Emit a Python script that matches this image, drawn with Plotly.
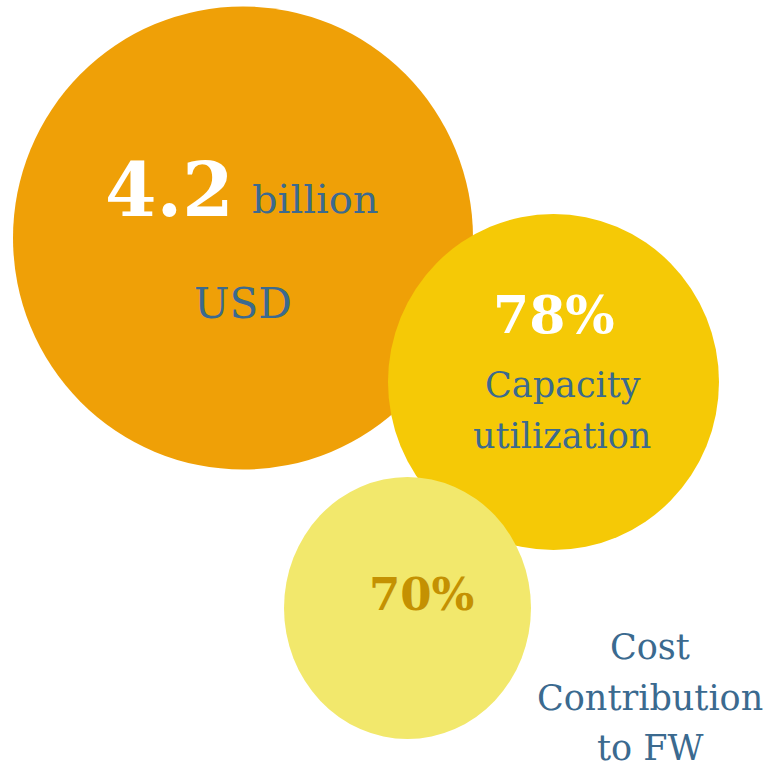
import plotly.graph_objects as go

W, H = 770, 769

# Bubble data (pixel-space coordinates, y measured downward)
bubble_names = ["Spend", "Capacity utilization", "Cost contribution to FW"]
bubble_cx = [243, 553.5, 407.5]
bubble_cy = [238, 382, 608]
bubble_rx = [230, 165.5, 123.5]
bubble_ry = [231.5, 168, 131]
bubble_colors = ["#EFA007", "#F5C906", "#F2E86C"]

# Value labels
value_texts = ["4.2", "78%", "70%"]
value_x = [169, 554, 421]
value_y = [190, 314, 594]
value_sizes = [74, 52, 45]
value_colors = ["#FFFFFF", "#FFFFFF", "#C49102"]

# Descriptive labels (one entry per line)
desc_texts = ["billion", "USD", "Capacity", "utilization", "Cost", "Contribution", "to FW"]
desc_x = [315, 243, 563, 562, 650, 650, 650]
desc_y = [199, 303, 385, 436, 647, 698, 748]
desc_sizes = [40, 42, 35, 35, 35, 35, 35]
desc_color = "#3B6A8F"

fig = go.Figure()

shapes = []
for cx, cy, rx, ry, col in zip(bubble_cx, bubble_cy, bubble_rx, bubble_ry, bubble_colors):
    shapes.append(dict(type="circle", xref="x", yref="y",
                       x0=cx - rx, x1=cx + rx, y0=cy - ry, y1=cy + ry,
                       fillcolor=col, line=dict(width=0), layer="below"))

annotations = []
for t, x, y, s, c in zip(value_texts, value_x, value_y, value_sizes, value_colors):
    annotations.append(dict(x=x, y=y, xref="x", yref="y", text="<b>" + t + "</b>",
                            showarrow=False, xanchor="center", yanchor="middle",
                            font=dict(family="DejaVu Serif", size=s, color=c)))
for t, x, y, s in zip(desc_texts, desc_x, desc_y, desc_sizes):
    annotations.append(dict(x=x, y=y, xref="x", yref="y", text=t,
                            showarrow=False, xanchor="center", yanchor="middle",
                            font=dict(family="DejaVu Serif", size=s, color=desc_color)))

fig.add_trace(go.Scatter(x=[0, W], y=[0, H], mode="markers",
                         marker=dict(opacity=0), hoverinfo="skip", showlegend=False))

fig.update_layout(
    width=W, height=H,
    margin=dict(l=0, r=0, t=0, b=0),
    paper_bgcolor="white", plot_bgcolor="white",
    shapes=shapes, annotations=annotations,
    xaxis=dict(range=[0, W], visible=False, fixedrange=True),
    yaxis=dict(range=[H, 0], visible=False, fixedrange=True),
    showlegend=False,
)

fig.write_html("out.html", config={"displayModeBar": False})
